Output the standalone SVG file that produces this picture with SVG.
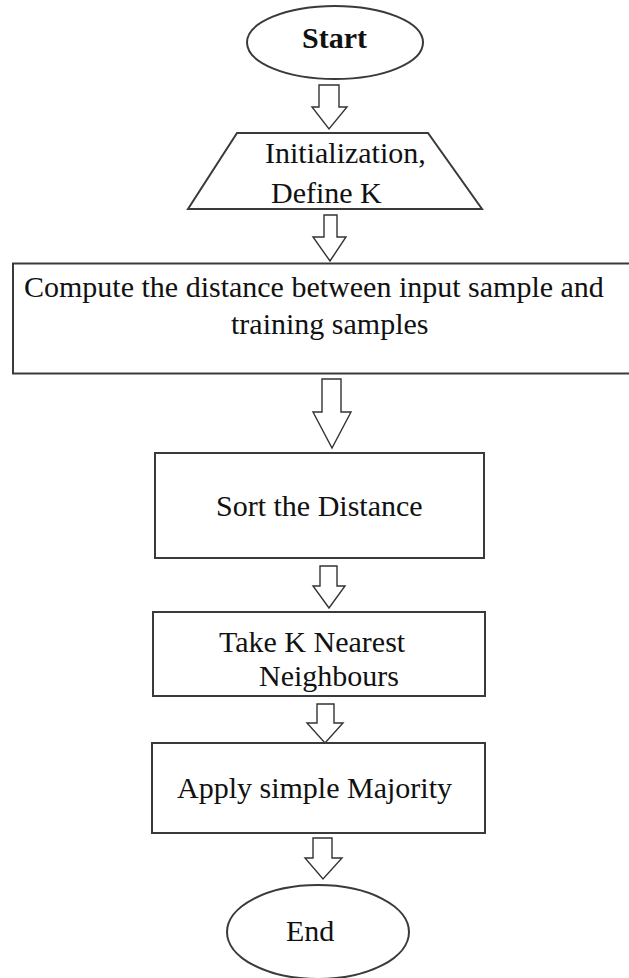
<svg xmlns="http://www.w3.org/2000/svg" width="629" height="978" viewBox="0 0 629 978">
  <style>
    .shape { fill: #ffffff; stroke: #3a3a3a; stroke-width: 2; }
    .arrow { fill: #ffffff; stroke: #333333; stroke-width: 1.4; stroke-linejoin: miter; }
    .label { font-family: "Liberation Serif", "Times New Roman", serif; font-size: 30px; fill: #111111; }
    .bold { font-weight: bold; }
  </style>
  <rect width="629" height="978" fill="#ffffff"/>

  <!-- block arrows between steps -->
  <g id="connectors">
    <path class="arrow" d="M319,85 H339 V107 H347 L329,129 L312,107 H319 Z"/>
    <path class="arrow" d="M324,215 H337 V237 H346 L330,261 L313,237 H324 Z"/>
    <path class="arrow" d="M322,379 H341 V412 H351 L332,448 L313,412 H322 Z"/>
    <path class="arrow" d="M320,566 H337 V586 H345 L329,608 L313,586 H320 Z"/>
    <path class="arrow" d="M317,704 H334 V723 H343 L325,743 L307,723 H317 Z"/>
    <path class="arrow" d="M313,838 H332 V858 H342 L323,879 L305,858 H313 Z"/>
  </g>

  <g id="start">
    <ellipse class="shape" cx="335" cy="42.5" rx="88" ry="36.5"/>
    <text class="label bold" x="302" y="48">Start</text>
  </g>

  <g id="init">
    <polygon class="shape" points="237,133 428,133 482,209 188,209"/>
    <text class="label" x="265" y="163">Initialization,</text>
    <text class="label" x="271" y="203">Define K</text>
  </g>

  <g id="compute">
    <rect class="shape" x="13" y="263.5" width="630" height="110"/>
    <text class="label" x="24" y="297">Compute the distance between input sample and</text>
    <text class="label" x="231" y="334">training samples</text>
  </g>

  <g id="sort">
    <rect class="shape" x="155" y="453" width="329" height="105"/>
    <text class="label" x="216" y="516">Sort the Distance</text>
  </g>

  <g id="nearest">
    <rect class="shape" x="153" y="612" width="332" height="84"/>
    <text class="label" x="219" y="652">Take K Nearest</text>
    <text class="label" x="259" y="686">Neighbours</text>
  </g>

  <g id="majority">
    <rect class="shape" x="152" y="743" width="333" height="90"/>
    <text class="label" x="177" y="798">Apply simple Majority</text>
  </g>

  <g id="end">
    <ellipse class="shape" cx="318" cy="932" rx="91" ry="47"/>
    <text class="label" x="286" y="941">End</text>
  </g>
</svg>
